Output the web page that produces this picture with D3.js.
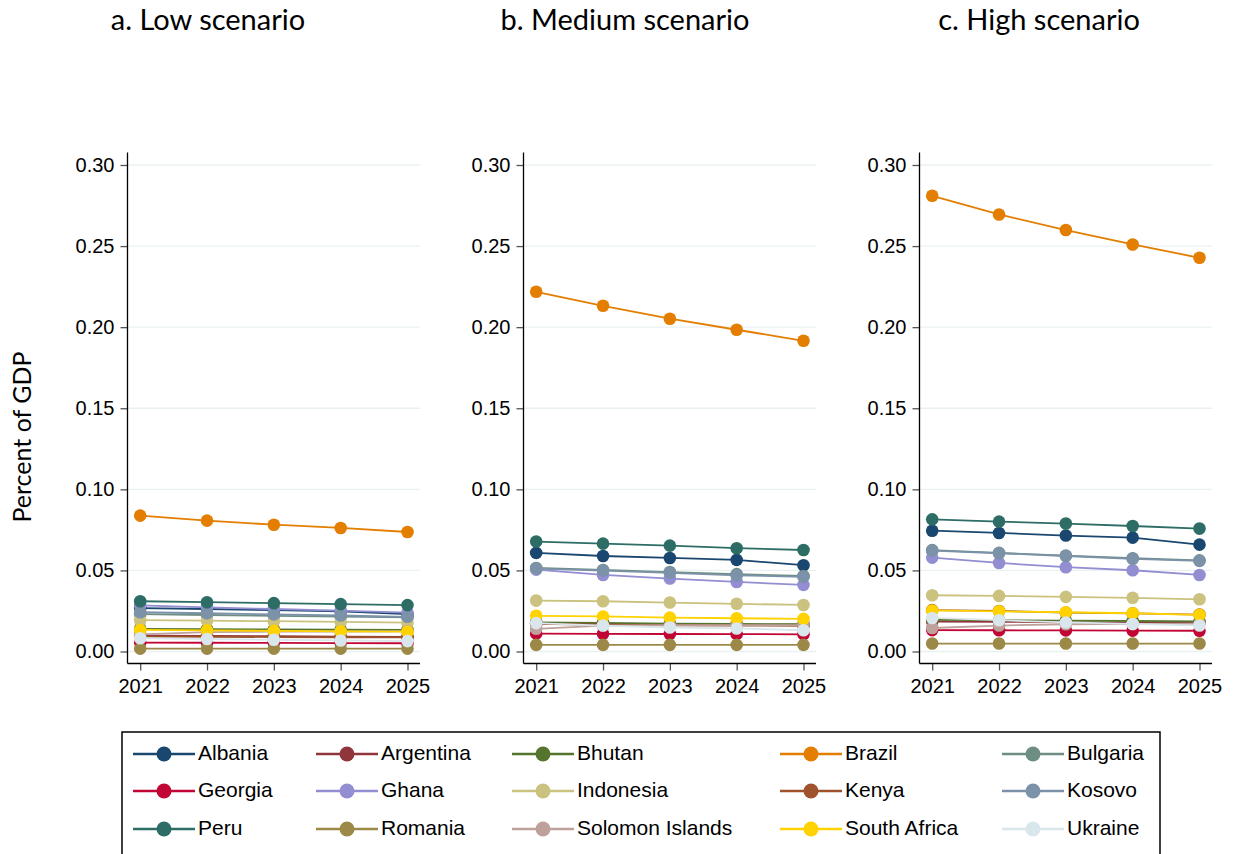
<!DOCTYPE html>
<html>
<head>
<meta charset="utf-8">
<script src="https://cdn.jsdelivr.net/npm/d3@7"></script>
<style>
  body { margin: 0; background: #fff; }
  svg { display: block; }
</style>
</head>
<body>
<svg id="chart"></svg>
<script>
const years = [2021, 2022, 2023, 2024, 2025]
const countries = ['Albania', 'Argentina', 'Bhutan', 'Brazil', 'Bulgaria',
  'Georgia', 'Ghana', 'Indonesia', 'Kenya', 'Kosovo',
  'Peru', 'Romania', 'Solomon Islands', 'South Africa', 'Ukraine']
const palette = ['#1a476f', '#90353b', '#55752f', '#e37e00', '#6e8e84',
  '#c10534', '#938dd2', '#cac27e', '#a0522d', '#7b92a8',
  '#2d6d66', '#9c8847', '#bfa19c', '#ffd200', '#d9e6eb']
const panelTitles = ['a. Low scenario', 'b. Medium scenario', 'c. High scenario']
const yTicks = [0, 0.05, 0.10, 0.15, 0.20, 0.25, 0.30]

// one row per country, in the order of `countries`
const lowValues = [
  [0.0268, 0.0262, 0.0255, 0.0247, 0.0230],
  [0.0098, 0.0096, 0.0094, 0.0092, 0.0090],
  [0.0140, 0.0138, 0.0136, 0.0134, 0.0133],
  [0.0838, 0.0807, 0.0782, 0.0762, 0.0737],
  [0.0230, 0.0225, 0.0220, 0.0215, 0.0210],
  [0.0055, 0.0054, 0.0053, 0.0052, 0.0051],
  [0.0285, 0.0272, 0.0262, 0.0252, 0.0240],
  [0.0193, 0.0190, 0.0187, 0.0183, 0.0178],
  [0.0092, 0.0091, 0.0089, 0.0088, 0.0087],
  [0.0242, 0.0236, 0.0229, 0.0222, 0.0214],
  [0.0310, 0.0304, 0.0298, 0.0292, 0.0286],
  [0.0018, 0.0018, 0.0018, 0.0018, 0.0018],
  [0.0105, 0.0120, 0.0122, 0.0123, 0.0124],
  [0.0133, 0.0130, 0.0127, 0.0124, 0.0122],
  [0.0082, 0.0077, 0.0072, 0.0068, 0.0064]
]
const mediumValues = [
  [0.0608, 0.0589, 0.0577, 0.0565, 0.0532],
  [0.0172, 0.0170, 0.0168, 0.0166, 0.0165],
  [0.0180, 0.0176, 0.0172, 0.0170, 0.0168],
  [0.2218, 0.2132, 0.2052, 0.1984, 0.1916],
  [0.0515, 0.0503, 0.0490, 0.0477, 0.0466],
  [0.0110, 0.0109, 0.0108, 0.0107, 0.0106],
  [0.0505, 0.0472, 0.0450, 0.0429, 0.0411],
  [0.0314, 0.0310, 0.0302, 0.0294, 0.0287],
  [0.0170, 0.0165, 0.0162, 0.0160, 0.0158],
  [0.0511, 0.0499, 0.0485, 0.0470, 0.0460],
  [0.0678, 0.0665, 0.0653, 0.0637, 0.0626],
  [0.0041, 0.0041, 0.0041, 0.0041, 0.0041],
  [0.0140, 0.0160, 0.0162, 0.0163, 0.0163],
  [0.0220, 0.0216, 0.0209, 0.0205, 0.0201],
  [0.0175, 0.0160, 0.0148, 0.0142, 0.0131]
]
const highValues = [
  [0.0745, 0.0731, 0.0715, 0.0702, 0.0659],
  [0.0185, 0.0183, 0.0180, 0.0178, 0.0176],
  [0.0195, 0.0193, 0.0190, 0.0188, 0.0186],
  [0.2810, 0.2695, 0.2599, 0.2510, 0.2428],
  [0.0625, 0.0608, 0.0591, 0.0575, 0.0562],
  [0.0132, 0.0131, 0.0130, 0.0129, 0.0128],
  [0.0579, 0.0546, 0.0520, 0.0501, 0.0472],
  [0.0347, 0.0343, 0.0337, 0.0331, 0.0322],
  [0.0255, 0.0250, 0.0240, 0.0235, 0.0228],
  [0.0622, 0.0606, 0.0589, 0.0571, 0.0559],
  [0.0815, 0.0801, 0.0789, 0.0774, 0.0758],
  [0.0049, 0.0049, 0.0049, 0.0049, 0.0049],
  [0.0145, 0.0160, 0.0168, 0.0170, 0.0171],
  [0.0253, 0.0248, 0.0242, 0.0236, 0.0226],
  [0.0207, 0.0193, 0.0179, 0.0170, 0.0160]
]
const scenarios = [lowValues, mediumValues, highValues]

const dimension = { width: 1246, height: 854 }
const panelLeft = [127.5, 523.5, 919.5]
const titleX = [208, 625, 1039]
const panel = { top: 152.5, width: 292.5, height: 511 }

const svg = d3.select('#chart')
  .attr('width', dimension.width)
  .attr('height', dimension.height)

const xScale = d3.scaleLinear().domain([2021, 2025]).range([12.7, 280])
const yScale = d3.scaleLinear().domain([0, 0.30]).range([499, 12.5])

const line = d3.line()
  .x((d, i) => xScale(years[i]))
  .y((d) => yScale(d))

scenarios.forEach((values, p) => {
  const g = svg.append('g')
    .attr('transform', `translate(${panelLeft[p]}, ${panel.top})`)

  svg.append('text')
    .attr('x', titleX[p])
    .attr('y', 30)
    .attr('text-anchor', 'middle')
    .attr('font-family', 'Lato, sans-serif')
    .attr('font-size', 29)
    .attr('fill', '#000')
    .text(panelTitles[p])

  // gridlines
  g.selectAll('.grid')
    .data(yTicks)
    .enter()
    .append('line')
    .attr('x1', 0)
    .attr('x2', panel.width)
    .attr('y1', (d) => yScale(d))
    .attr('y2', (d) => yScale(d))
    .attr('stroke', '#eaf1f3')
    .attr('stroke-width', 1.3)

  const yAxis = g.append('g')
    .call(d3.axisLeft(yScale).tickValues(yTicks).tickFormat(d3.format('.2f'))
      .tickSize(7).tickPadding(6))
    .attr('font-size', 20)
    .attr('font-family', '"Liberation Sans", Arial, sans-serif')
  yAxis.select('.domain').remove()
  yAxis.selectAll('.tick line').attr('stroke', '#555').attr('stroke-width', 1.3)
  yAxis.selectAll('.tick text').attr('fill', '#000')

  const xAxis = g.append('g')
    .attr('transform', `translate(0, ${panel.height})`)
    .call(d3.axisBottom(xScale).tickValues(years).tickFormat(d3.format('d'))
      .tickSize(7).tickPadding(8))
    .attr('font-size', 20)
    .attr('font-family', '"Liberation Sans", Arial, sans-serif')
  xAxis.select('.domain').remove()
  xAxis.selectAll('.tick line').attr('stroke', '#555').attr('stroke-width', 1.3)
  xAxis.selectAll('.tick text').attr('fill', '#000')

  g.append('line')
    .attr('x1', 0).attr('x2', 0)
    .attr('y1', 0).attr('y2', panel.height)
    .attr('stroke', '#000').attr('stroke-width', 1.3)
  g.append('line')
    .attr('x1', 0).attr('x2', panel.width)
    .attr('y1', panel.height).attr('y2', panel.height)
    .attr('stroke', '#000').attr('stroke-width', 1.3)

  const series = g.selectAll('.series')
    .data(values)
    .enter()
    .append('g')
    .attr('class', 'series')

  series.append('path')
    .attr('d', (d) => line(d))
    .attr('fill', 'none')
    .attr('stroke', (d, i) => palette[i])
    .attr('stroke-width', 1.8)

  series.selectAll('circle')
    .data((d, i) => d.map((v, j) => ({ v, j, c: palette[i] })))
    .enter()
    .append('circle')
    .attr('cx', (d) => xScale(years[d.j]))
    .attr('cy', (d) => yScale(d.v))
    .attr('r', 6.3)
    .attr('fill', (d) => d.c)
})

svg.append('text')
  .attr('transform', 'translate(25, 437) rotate(-90)')
  .attr('text-anchor', 'middle')
  .attr('dominant-baseline', 'middle')
  .attr('font-family', 'Lato, sans-serif')
  .attr('font-size', 25)
  .text('Percent of GDP')

// legend
const legendCols = [133, 316, 512, 780, 1002]
const legendRows = [754, 791, 829]

svg.append('rect')
  .attr('x', 122)
  .attr('y', 732)
  .attr('width', 1038)
  .attr('height', 140)
  .attr('fill', 'none')
  .attr('stroke', '#000')
  .attr('stroke-width', 1.5)

const legend = svg.selectAll('.legend')
  .data(countries)
  .enter()
  .append('g')
  .attr('class', 'legend')
  .attr('transform', (d, i) => `translate(${legendCols[i % 5]}, ${legendRows[Math.floor(i / 5)]})`)

legend.append('line')
  .attr('x1', 0).attr('x2', 62)
  .attr('stroke', (d, i) => palette[i])
  .attr('stroke-width', 2.5)
legend.append('circle')
  .attr('cx', 31)
  .attr('r', 7.5)
  .attr('fill', (d, i) => palette[i])
legend.append('text')
  .attr('x', 65)
  .attr('dominant-baseline', 'middle')
  .attr('font-family', '"Liberation Sans", Arial, sans-serif')
  .attr('font-size', 21)
  .text((d) => d)
</script>
</body>
</html>
